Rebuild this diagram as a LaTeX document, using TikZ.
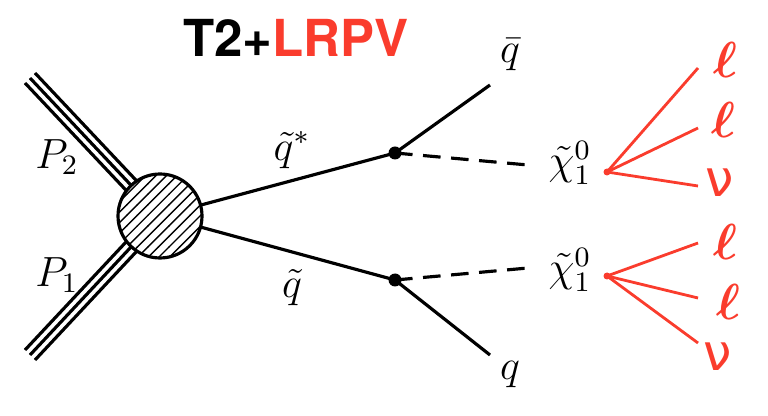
\documentclass[tikz,border=0pt]{standalone}
\usepackage{amsmath}
\usepackage{fontspec}
\newfontfamily\headfont{TeX Gyre Heros}
\newfontfamily\symfont{DejaVu Sans}
\usetikzlibrary{patterns,calc}
\definecolor{rpv}{RGB}{250,60,45}
\tikzset{
  prop/.style={line width=0.9pt},
  neut/.style={line width=0.9pt, dashed, dash pattern=on 5pt off 3pt},
  rpvline/.style={rpv, line width=0.8pt},
  lab/.style={font=\large},
  rlab/.style={rpv, font=\Large},
}
\begin{document}
\begin{tikzpicture}[x=0.01cm,y=-0.01cm]
\useasboundingbox (0,0) rectangle (768,416);
% Titel
\node (title) at (296,38) {\headfont\fontsize{14.5}{17}\selectfont\bfseries T2+\textcolor{rpv}{LRPV}};
% Blob
\coordinate (blob) at (160,216);
\coordinate (b2) at (30,78);
\coordinate (b1) at (30,355);
\foreach \d in {-5,0,5}{
  \draw[prop] ($(b2)+(\d,-\d)$) -- ($(blob)+(\d,-\d)$);
  \draw[prop] ($(b1)+(\d,\d)$) -- ($(blob)+(\d,\d)$);
}
\node (P2) at (57,157) [lab] {$P_2$};
\node (P1) at (57,275) [lab] {$P_1$};
% Vertices
\coordinate (v1) at (395,153);
\coordinate (v2) at (395,280);
\draw[prop] (blob) -- (v1);
\draw[prop] (blob) -- (v2);
\fill[white] (blob) circle (42);
\draw[prop, pattern=north east lines] (blob) circle (42);
\fill (v1) circle (6.5);
\fill (v2) circle (6.5);
\node (sq1) at (292,150) [lab] {$\tilde q^{*}$};
\node (sq2) at (292,288) [lab] {$\tilde q$};
% Quarks
\coordinate (qb) at (490,85);
\coordinate (q) at (490,355);
\draw[prop] (v1) -- (qb);
\draw[prop] (v2) -- (q);
\node (qbar) at (510,55) [lab] {$\bar q$};
\node (qq) at (510,375) [lab] {$q$};
% Neutralinos
\coordinate (n1) at (528,165);
\coordinate (n2) at (528,268);
\draw[neut] (v1) -- (n1);
\draw[neut] (v2) -- (n2);
\node (chi1) at (570,163) [lab] {$\tilde\chi^0_1$};
\node (chi2) at (570,270) [lab] {$\tilde\chi^0_1$};
% RPV
\coordinate (r1) at (607,172);
\coordinate (r2) at (607,276);
\fill[rpv] (r1) circle (3.5);
\fill[rpv] (r2) circle (3.5);
\foreach \y in {68,128,186} \draw[rpvline] (r1) -- (698,\y);
\foreach \y in {243,298,343} \draw[rpvline] (r2) -- (698,\y);
\node (l1) at (725,60) [rlab] {$\boldsymbol\ell$};
\node (l2) at (723,120) [rlab] {$\boldsymbol\ell$};
\node (nu1) at (720,183) [rlab] {\symfont ν};
\node (l3) at (725,242) [rlab] {$\boldsymbol\ell$};
\node (l4) at (728,302) [rlab] {$\boldsymbol\ell$};
\node (nu2) at (718,357) [rlab] {\symfont ν};
\end{tikzpicture}
\end{document}
